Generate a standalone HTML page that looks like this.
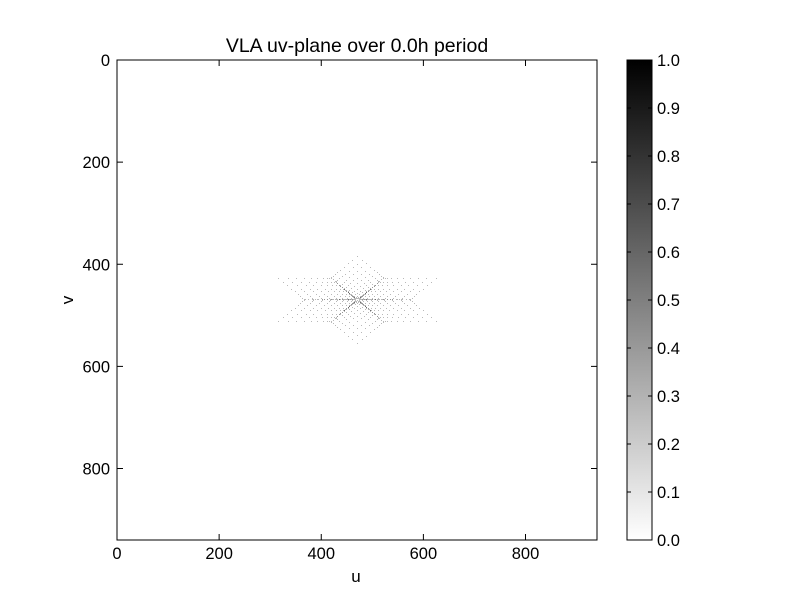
<!DOCTYPE html>
<html><head><meta charset="utf-8"><style>
body{margin:0;background:#fff;}
svg{display:block;font-family:"Liberation Sans",sans-serif;}
</style></head><body>
<svg id="chart" width="800" height="600" viewBox="0 0 800 600">
<defs><linearGradient id="cb" x1="0" y1="1" x2="0" y2="0"><stop offset="0" stop-color="#fff"/><stop offset="1" stop-color="#000"/></linearGradient></defs>
<rect width="800" height="600" fill="#fff"/>
<text x="357" y="52" font-size="19.5" text-anchor="middle">VLA uv-plane over 0.0h period</text>
<g id="dots"></g>
<rect x="117" y="60" width="480" height="480" fill="none" stroke="#000" stroke-width="1"/>
<g id="ticks"></g>
<text x="356" y="582" font-size="17" text-anchor="middle">u</text>
<text x="73" y="300" font-size="17" text-anchor="middle" transform="rotate(-90 73 300)">v</text>
<rect x="627" y="60" width="25" height="480" fill="url(#cb)" stroke="#000" stroke-width="1"/>
<g id="cbticks"></g>
</svg>
<script>
const xTicks=[0,200,400,600,800];
const yTicks=[0,200,400,600,800];
const cbTicks=["0.0","0.1","0.2","0.3","0.4","0.5","0.6","0.7","0.8","0.9","1.0"];
const antFrac=[0.023,0.076,0.152,0.249,0.365,0.5,0.65,0.816,1.0];
const armA=[51.7,43];
const armB=[-103.3,0];
const armC=[51.7,-43];
const uvCenter=[470,469];
const axisMax=940;
const NS="http://www.w3.org/2000/svg";
const X0=117,Y0=60,W=480;
const sx=u=>X0+u*W/axisMax, sy=v=>Y0+v*W/axisMax;
function mk(t,a,p){const e=document.createElementNS(NS,t);for(const k in a)e.setAttribute(k,a[k]);p.appendChild(e);return e;}
const tg=document.getElementById('ticks');
xTicks.forEach(t=>{
  const x=sx(t);
  mk('line',{x1:x,y1:540,x2:x,y2:534,stroke:'#000'},tg);
  mk('line',{x1:x,y1:60,x2:x,y2:66,stroke:'#000'},tg);
  const l=mk('text',{x:x,y:559,'font-size':16.5,'text-anchor':'middle'},tg);l.textContent=t;
  
  
});
yTicks.forEach(t=>{
  const y=sy(t);
  mk('line',{x1:117,y1:y,x2:123,y2:y,stroke:'#000'},tg);
  mk('line',{x1:597,y1:y,x2:591,y2:y,stroke:'#000'},tg);
  const l=mk('text',{x:110,y:y+6,'font-size':16.5,'text-anchor':'end'},tg);l.textContent=t;
  
  
});
const cg=document.getElementById('cbticks');
cbTicks.forEach((t,i)=>{
  const y=540-i*48;
  mk('line',{x1:627,y1:y,x2:631,y2:y,stroke:'#000'},cg);
  mk('line',{x1:652,y1:y,x2:648,y2:y,stroke:'#000'},cg);
  const l=mk('text',{x:657,y:y+6,'font-size':16.5},cg);l.textContent=t;
  
  
});
const arms=[armA,armB,armC];
const ants=[];
arms.forEach(a=>antFrac.forEach(f=>ants.push([a[0]*f,a[1]*f])));
const dg=document.getElementById('dots');
const seen={};
for(let i=0;i<ants.length;i++)for(let j=0;j<ants.length;j++){
  if(i===j)continue;
  const u=ants[i][0]-ants[j][0], v=ants[i][1]-ants[j][1];
  const px=Math.round(sx(uvCenter[0]+u)), py=Math.round(sy(uvCenter[1]+v));
  const key=px+','+py;
  seen[key]=(seen[key]||0)+1;
}
for(const k in seen){
  const [px,py]=k.split(',').map(Number);
  const n=seen[k];
  const g=n>2?110:(n>1?150:185);
  const r=mk('rect',{x:px,y:py,width:1,height:1,fill:`rgb(${g},${g},${g})`},dg);
  
  
}
</script>
</body></html>
